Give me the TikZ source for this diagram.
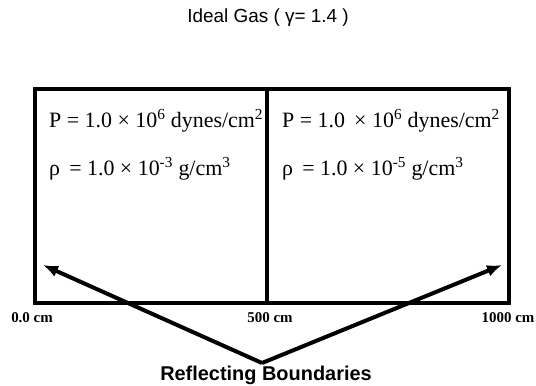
\documentclass[tikz,border=0pt]{standalone}
\usepackage{fontspec}
\setmainfont{Liberation Serif}
\newfontfamily\helv{Liberation Sans}
\usetikzlibrary{arrows.meta}
\begin{document}
\begin{tikzpicture}[x=1bp,y=-1bp,
  boxline/.style={line width=4bp},
  eqtext/.style={font=\fontsize{22}{24}\selectfont, anchor=west, inner sep=0pt},
  axlabel/.style={font=\bfseries\fontsize{15}{16}\selectfont, inner sep=0pt},
  ptr/.style={line width=4bp, -{Latex[length=15bp,width=12bp]}}]
\useasboundingbox (0,0) rectangle (536,385);
% title
\node[font=\helv\fontsize{19}{21}\selectfont, inner sep=0pt] (title) at (268,18) {Ideal Gas ( γ= 1.4 )};
% boxes
\coordinate (tl) at (35,89);
\coordinate (br) at (509,303);
\coordinate (mt) at (267,89);
\coordinate (mb) at (267,303);
\draw[boxline] (tl) rectangle (br);
\draw[boxline] (mt) -- (mb);
% texts
\node[eqtext] (pl) at (49,121) {P = 1.0 × 10\textsuperscript{6} dynes/cm\textsuperscript{2}};
\node[eqtext] (rl) at (49,169) {ρ \,= 1.0 × 10\textsuperscript{-3} g/cm\textsuperscript{3}};
\node[eqtext] (pr) at (282,121) {P = 1.0 \,× 10\textsuperscript{6} dynes/cm\textsuperscript{2}};
\node[eqtext] (rr) at (282,169) {ρ \,= 1.0 × 10\textsuperscript{-5} g/cm\textsuperscript{3}};
% axis labels
\node[axlabel] (x0) at (32,318) {0.0 cm};
\node[axlabel] (x5) at (270,318) {500 cm};
\node[axlabel] (x10) at (508,318) {1000 cm};
% arrows
\coordinate (apex) at (262,363);
\coordinate (lt) at (43,265);
\coordinate (rt) at (502,265);
\draw[ptr] (apex) -- (lt);
\draw[ptr] (apex) -- (rt);
\node[font=\helv\bfseries\fontsize{20}{22}\selectfont, inner sep=0pt] (rb) at (266,375) {Reflecting Boundaries};
\end{tikzpicture}
\end{document}
